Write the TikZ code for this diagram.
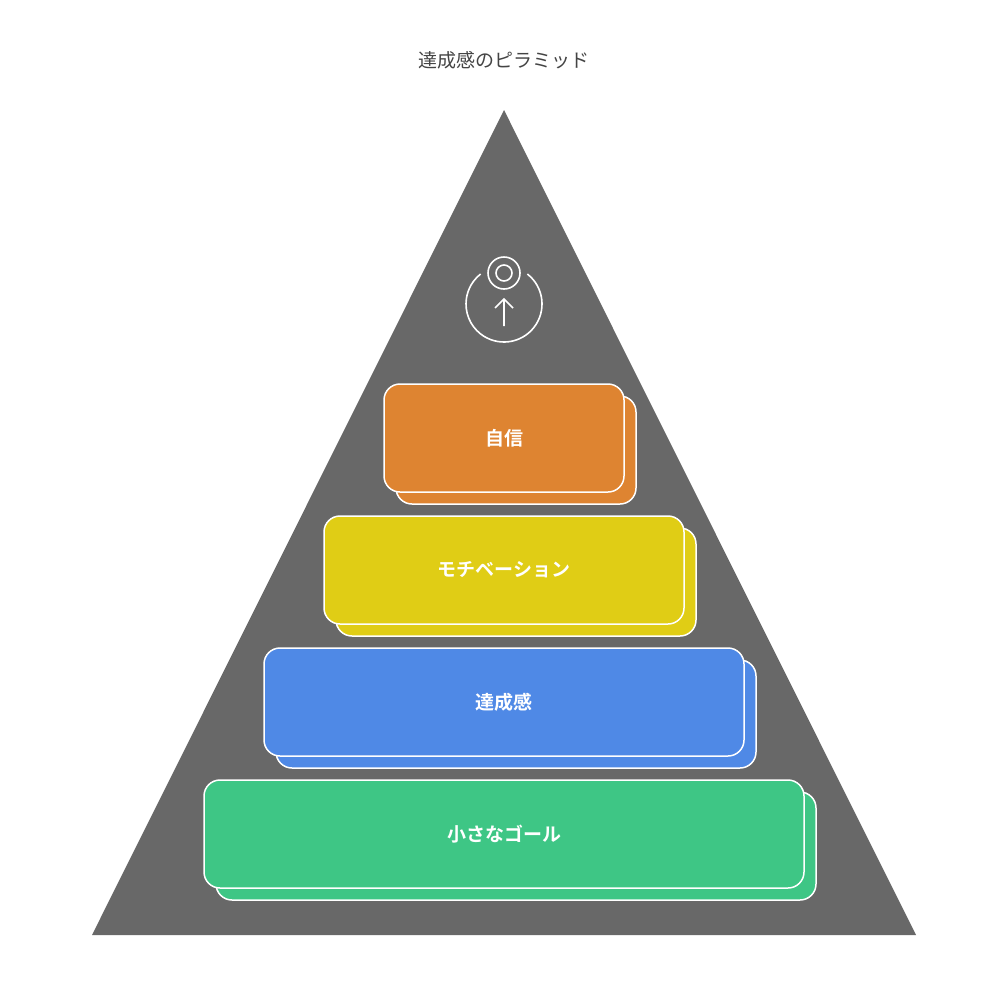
\documentclass[tikz,border=0pt]{standalone}
\usepackage{fontspec}
\setmainfont{Noto Sans CJK JP}
\newfontfamily\cjkb{Noto Sans CJK JP Bold}
\definecolor{tri}{HTML}{686868}
\definecolor{cor}{HTML}{DE8431}
\definecolor{cye}{HTML}{E0CD15}
\definecolor{cbl}{HTML}{4F89E6}
\definecolor{cgr}{HTML}{3EC685}
\definecolor{ttl}{HTML}{444444}
\begin{document}
\begin{tikzpicture}[x=1pt,y=-1pt,
  lay/.style={draw=white,line width=1.5pt,rounded corners=16pt},
  lbl/.style={text=white,font=\cjkb\fontsize{19}{19}\selectfont}]
\useasboundingbox (0,0) rectangle (1008,996);
\fill[white] (0,0) rectangle (1008,996);
\node[text=ttl,font=\fontsize{19}{19}\selectfont] (title) at (504,60) {達成感のピラミッド};
\fill[tri] (504,110) -- (916,935) -- (92,935) -- cycle;
% icon
\draw[white,line width=1.6pt] (504,304) ++(-52:38) arc[start angle=-52,end angle=232,radius=38];
\draw[white,line width=1.6pt] (504,273) circle (16) (504,273) circle (8);
\draw[white,line width=1.6pt] (504,326) -- (504,299) (495,308) -- (504,299) -- (513,308);
% layers
\foreach \xa/\ya/\xb/\yb/\c/\n/\t in {384/384/624/492/cor/o/自信, 324/516/684/624/cye/y/モチベーション, 264/648/744/756/cbl/b/達成感, 204/780/804/888/cgr/g/小さなゴール}{
  \draw[lay,fill=\c] (\xa+12,\ya+12) rectangle (\xb+12,\yb+12);
  \draw[lay,fill=\c] (\xa,\ya) rectangle (\xb,\yb);
  \node[lbl] (\n) at ({(\xa+\xb)/2},{(\ya+\yb)/2}) {\t};
}
\end{tikzpicture}
\end{document}
